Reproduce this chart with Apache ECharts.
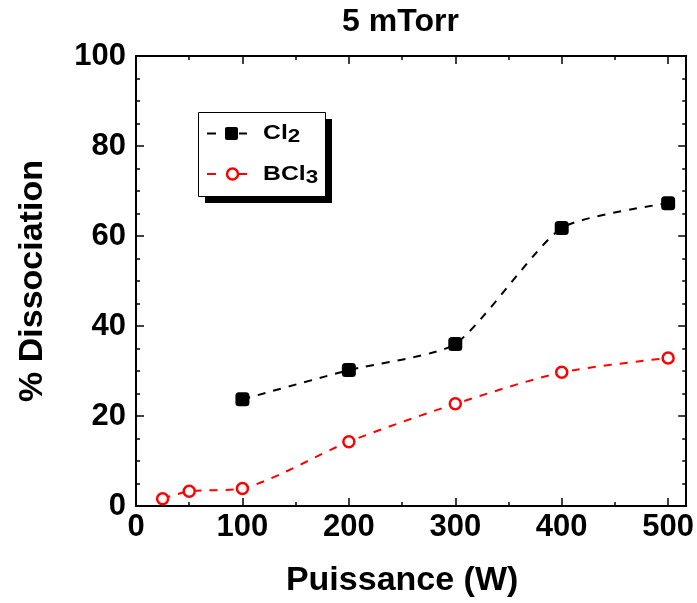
<!DOCTYPE html>
<html>
<head>
<meta charset="utf-8">
<script src="https://cdn.jsdelivr.net/npm/echarts@6/dist/echarts.min.js"></script>
<style>
  html, body { margin: 0; padding: 0; background: #fff; }
  #chart { width: 697px; height: 603px; }
</style>
</head>
<body>
<div id="chart"></div>
<script>
// Dissociation rate versus RF power at 5 mTorr
const powerCl2 = [100, 200, 300, 400, 500];
const dissocCl2 = [23.7, 30.2, 36.0, 61.8, 67.3];
const powerBCl3 = [25, 50, 100, 200, 300, 400, 500];
const dissocBCl3 = [1.6, 3.3, 3.9, 14.3, 22.7, 29.7, 32.9];
const xTicks = [0, 100, 200, 300, 400, 500];
const yTicks = [0, 20, 40, 60, 80, 100];

const FONT = '"Liberation Sans", Arial, Helvetica, sans-serif';

const pair = (xs, ys) => xs.map((x, i) => [x, ys[i]]);

const axisLineStyle = { color: '#000', width: 2 };

const xBase = {
  type: 'value', min: 0, max: 517, interval: 100,
  axisLine: { show: true, onZero: false, lineStyle: axisLineStyle },
  axisTick: { show: true, inside: true, length: 8, lineStyle: { color: '#000', width: 1.5 } },
  minorTick: { show: true, splitNumber: 2, length: 4, lineStyle: { color: '#000', width: 1.5 } },
  splitLine: { show: false }
};
const yBase = {
  type: 'value', min: 0, max: 100, interval: 20,
  axisLine: { show: true, onZero: false, lineStyle: axisLineStyle },
  axisTick: { show: true, inside: true, length: 8, lineStyle: { color: '#000', width: 1.5 } },
  minorTick: { show: true, splitNumber: 4, length: 4, lineStyle: { color: '#000', width: 1.5 } },
  splitLine: { show: false }
};

// Legend panel drawn by hand: framed box with a hard drop shadow
const legendRich = {
  m: { fontFamily: FONT, fontSize: 21, fontWeight: 'bold', fill: '#000', lineHeight: 26 },
  s: { fontFamily: FONT, fontSize: 19, fontWeight: 'bold', fill: '#000', lineHeight: 8, verticalAlign: 'bottom' }
};
function legendRow(y, color, symbol, label) {
  return [
    { type: 'line', z: 12, shape: { x1: 207, y1: y, x2: 216, y2: y }, style: { stroke: color, lineWidth: 2 } },
    { type: 'line', z: 12, shape: { x1: 239, y1: y, x2: 247, y2: y }, style: { stroke: color, lineWidth: 2 } },
    Object.assign({ z: 13 }, symbol),
    {
      type: 'text', z: 13, x: 263, y: y, scaleX: 1.18, style: {
        text: label, rich: legendRich, verticalAlign: 'middle', align: 'left',
        fontFamily: FONT, fontSize: 21, fontWeight: 'bold', fill: '#000'
      }
    }
  ];
}

const chart = echarts.init(document.getElementById('chart'), null, { renderer: 'canvas' });

chart.setOption({
  animation: false,
  backgroundColor: '#fff',
  textStyle: { fontFamily: FONT },
  title: {
    text: '5 mTorr',
    left: 395.5,
    textAlign: 'center',
    top: 1,
    textStyle: { fontFamily: FONT, fontSize: 32, fontWeight: 'bold', color: '#000' }
  },
  grid: { left: 136, right: 10, top: 56, bottom: 96, containLabel: false },
  graphic: [
    { type: 'rect', z: 10, shape: { x: 205, y: 119, width: 127, height: 84 }, style: { fill: '#000' } },
    { type: 'rect', z: 11, shape: { x: 198.5, y: 112.5, width: 127, height: 84 }, style: { fill: '#fff', stroke: '#000', lineWidth: 1 } }
  ].concat(
    legendRow(133.5, '#000',
      { type: 'rect', shape: { x: 225, y: 127, width: 13, height: 13, r: 2 }, style: { fill: '#000' } },
      '{m|Cl}{s|2}'),
    legendRow(174, '#ff0000',
      { type: 'circle', shape: { cx: 232.5, cy: 174, r: 5.5 }, style: { fill: '#fff', stroke: '#ff0000', lineWidth: 2.5 } },
      '{m|BCl}{s|3}')
  ),
  xAxis: [
    Object.assign({}, xBase, {
      position: 'bottom',
      name: 'Puissance (W)', nameLocation: 'middle', nameGap: 58,
      nameTextStyle: { fontFamily: FONT, fontSize: 34, fontWeight: 'bold', color: '#000', padding: [0, 18, 0, 0] },
      axisLabel: {
        margin: 6, fontFamily: FONT, fontSize: 31, fontWeight: 'bold', color: '#000',
        formatter: v => xTicks.includes(v) ? String(v) : ''
      }
    }),
    Object.assign({}, xBase, { position: 'top', axisLabel: { show: false } })
  ],
  yAxis: [
    Object.assign({}, yBase, {
      position: 'left',
      name: '% Dissociation', nameLocation: 'middle', nameGap: 86, nameRotate: 90,
      nameTextStyle: { fontFamily: FONT, fontSize: 34, fontWeight: 'bold', color: '#000' },
      axisLabel: {
        margin: 10, fontFamily: FONT, fontSize: 31, fontWeight: 'bold', color: '#000',
        formatter: v => yTicks.includes(v) ? String(v) : ''
      }
    }),
    Object.assign({}, yBase, { position: 'right', axisLabel: { show: false } })
  ],
  series: [
    {
      name: 'Cl2', type: 'line', xAxisIndex: 0, yAxisIndex: 0,
      data: pair(powerCl2, dissocCl2),
      smooth: 0.2,
      symbol: 'roundRect', symbolSize: 14,
      itemStyle: { color: '#000' },
      lineStyle: { color: '#000', width: 2, type: [8, 8] },
      z: 3
    },
    {
      name: 'BCl3', type: 'line', xAxisIndex: 0, yAxisIndex: 0,
      data: pair(powerBCl3, dissocBCl3),
      smooth: 0.25,
      symbol: 'circle', symbolSize: 11,
      itemStyle: { color: '#fff', borderColor: '#ff0000', borderWidth: 2.5 },
      lineStyle: { color: '#ff0000', width: 2, type: [8, 8] },
      z: 3
    }
  ]
});
</script>
</body>
</html>
